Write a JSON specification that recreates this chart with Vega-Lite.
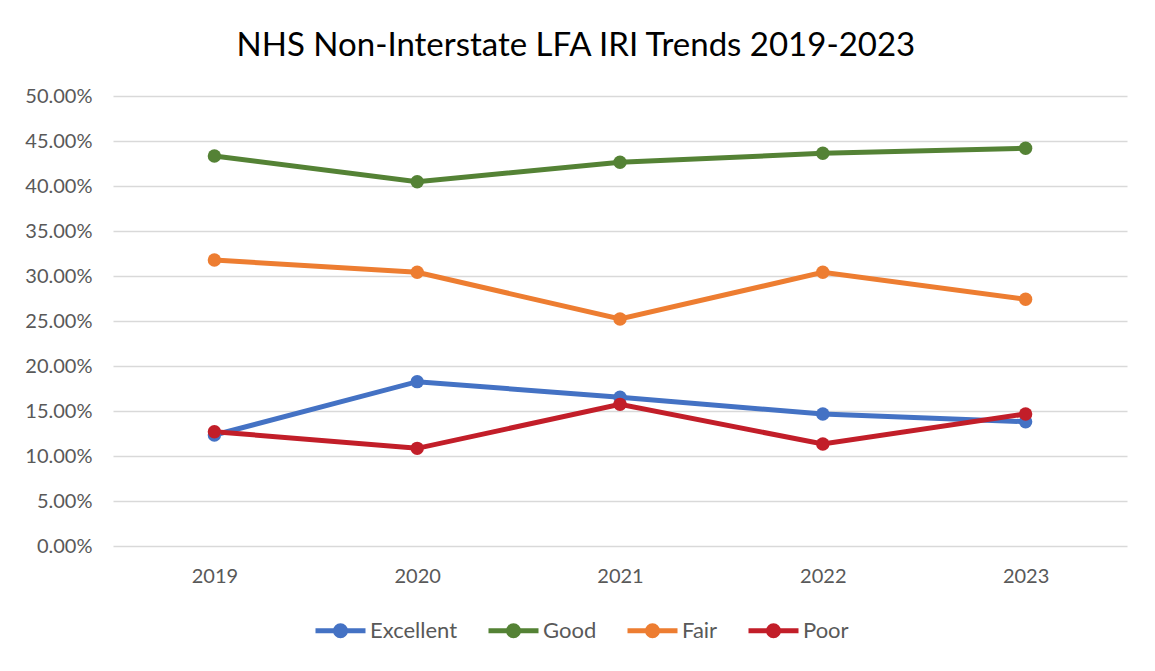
{
  "$schema": "https://vega.github.io/schema/vega-lite/v6.json",
  "autosize": {"type": "none"},
  "width": 1014,
  "height": 450,
  "padding": {"left": 113, "top": 96, "right": 28, "bottom": 125},
  "background": "white",
  "title": {
    "text": "NHS Non-Interstate LFA IRI Trends 2019-2023",
    "fontSize": 33,
    "font": "Lato",
    "fontWeight": "normal",
    "color": "#000000",
    "offset": 23,
    "anchor": "middle",
    "frame": "bounds"
  },
  "data": {
    "values": [
      {"year": "2019", "cat": "Excellent", "v": 0.1233},
      {"year": "2020", "cat": "Excellent", "v": 0.1826},
      {"year": "2021", "cat": "Excellent", "v": 0.1652},
      {"year": "2022", "cat": "Excellent", "v": 0.1467},
      {"year": "2023", "cat": "Excellent", "v": 0.1381},
      {"year": "2019", "cat": "Good", "v": 0.4333},
      {"year": "2020", "cat": "Good", "v": 0.4048},
      {"year": "2021", "cat": "Good", "v": 0.4263},
      {"year": "2022", "cat": "Good", "v": 0.4363},
      {"year": "2023", "cat": "Good", "v": 0.4419},
      {"year": "2019", "cat": "Fair", "v": 0.3178},
      {"year": "2020", "cat": "Fair", "v": 0.3041},
      {"year": "2021", "cat": "Fair", "v": 0.2522},
      {"year": "2022", "cat": "Fair", "v": 0.3041},
      {"year": "2023", "cat": "Fair", "v": 0.2741},
      {"year": "2019", "cat": "Poor", "v": 0.127},
      {"year": "2020", "cat": "Poor", "v": 0.1085},
      {"year": "2021", "cat": "Poor", "v": 0.1574},
      {"year": "2022", "cat": "Poor", "v": 0.1133},
      {"year": "2023", "cat": "Poor", "v": 0.1467}
    ]
  },
  "mark": {"type": "line", "strokeWidth": 5, "point": {"size": 180, "filled": true, "opacity": 1}},
  "encoding": {
    "x": {
      "field": "year",
      "type": "ordinal",
      "scale": {"type": "point", "padding": 0.5},
      "axis": {
        "title": null,
        "labelAngle": 0,
        "labelFont": "Lato",
        "labelFontSize": 20,
        "labelColor": "#595959",
        "labelPadding": 20,
        "ticks": false,
        "domain": false,
        "grid": false
      }
    },
    "y": {
      "field": "v",
      "type": "quantitative",
      "scale": {"domain": [0, 0.5], "nice": false},
      "axis": {
        "title": null,
        "values": [0, 0.05, 0.1, 0.15, 0.2, 0.25, 0.3, 0.35, 0.4, 0.45, 0.5],
        "format": ".2%",
        "labelFont": "Lato",
        "labelFontSize": 20,
        "labelColor": "#595959",
        "labelPadding": 21,
        "ticks": false,
        "domain": false,
        "gridColor": "#D9D9D9",
        "gridWidth": 1.5
      }
    },
    "color": {
      "field": "cat",
      "type": "nominal",
      "sort": ["Excellent", "Good", "Fair", "Poor"],
      "scale": {
        "domain": ["Excellent", "Good", "Fair", "Poor"],
        "range": ["#4472C4", "#548235", "#ED7D31", "#C21E29"]
      },
      "legend": {
        "title": null,
        "orient": "none",
        "legendX": 200,
        "legendY": 507,
        "direction": "horizontal",
        "labelFont": "Lato",
        "labelFontSize": 22,
        "labelColor": "#595959",
        "labelOffset": 2,
        "columnPadding": 20,
        "symbolType": "M-1,0H1M-0.2,0A0.2,0.2 0 1,1 0.2,0A0.2,0.2 0 1,1 -0.2,0",
        "symbolSize": 2500,
        "symbolStrokeWidth": 5
      }
    }
  },
  "config": {
    "view": {"stroke": null}
  }
}
